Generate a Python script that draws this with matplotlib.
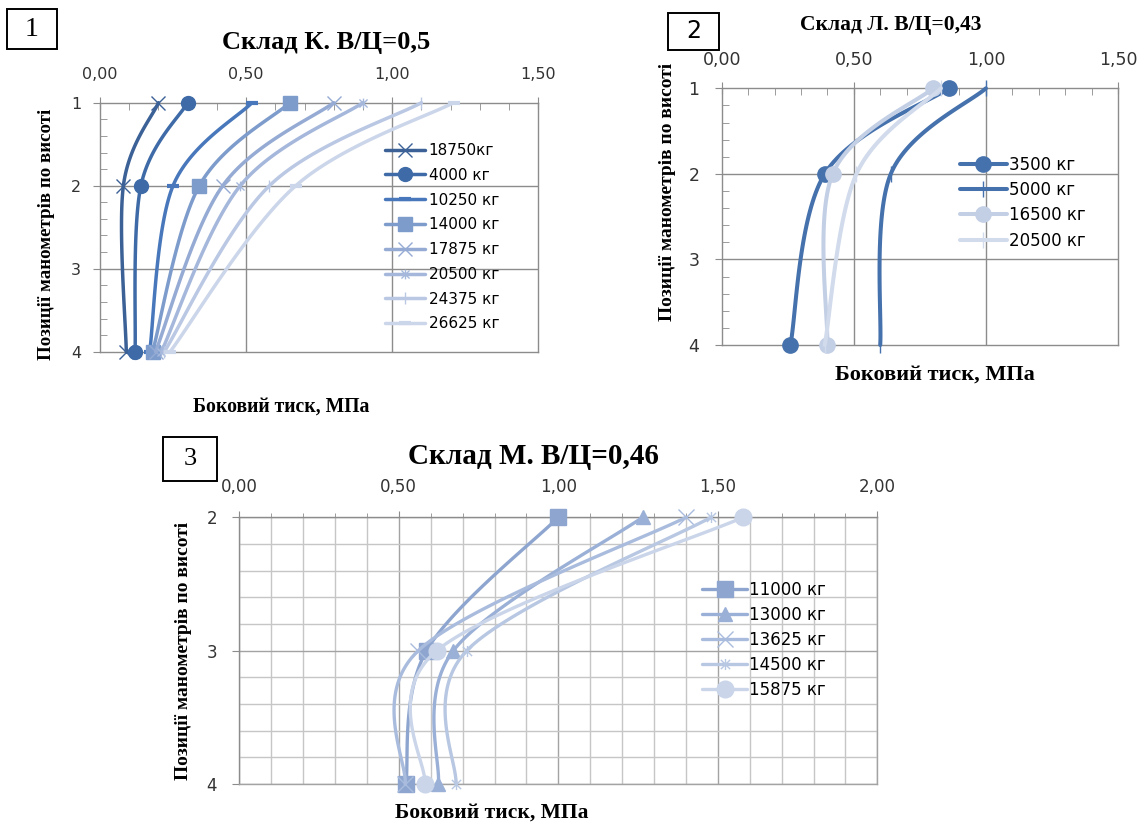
import numpy as np
import matplotlib
matplotlib.use("Agg")
import matplotlib.pyplot as plt
from matplotlib.ticker import MultipleLocator, FixedLocator, FixedFormatter
from matplotlib.patches import Rectangle
from matplotlib.path import Path

# ---------------- data ----------------
# Panel 1: Склад К. В/Ц=0,5
p1_positions = [1, 2, 4]
p1_labels = ["18750кг", "4000 кг", "10250 кг", "14000 кг", "17875 кг", "20500 кг", "24375 кг", "26625 кг"]
p1_s18750 = [0.20, 0.08, 0.09]
p1_s4000 = [0.30, 0.14, 0.12]
p1_s10250 = [0.52, 0.25, 0.17]
p1_s14000 = [0.65, 0.34, 0.18]
p1_s17875 = [0.80, 0.42, 0.19]
p1_s20500 = [0.90, 0.48, 0.21]
p1_s24375 = [1.10, 0.58, 0.22]
p1_s26625 = [1.21, 0.67, 0.24]

# Panel 2: Склад Л. В/Ц=0,43
p2_positions = [1, 2, 4]
p2_labels = ["3500 кг", "5000 кг", "16500 кг", "20500 кг"]
p2_s3500 = [0.86, 0.39, 0.26]
p2_s5000 = [1.00, 0.64, 0.60]
p2_s16500 = [0.80, 0.42, 0.40]
p2_s20500 = [0.83, 0.51, 0.39]

# Panel 3: Склад М. В/Ц=0,46
p3_positions = [2, 3, 4]
p3_labels = ["11000 кг", "13000 кг", "13625 кг", "14500 кг", "15875 кг"]
p3_s11000 = [1.00, 0.587, 0.522]
p3_s13000 = [1.264, 0.671, 0.624]
p3_s13625 = [1.401, 0.561, 0.52]
p3_s14500 = [1.479, 0.713, 0.679]
p3_s15875 = [1.580, 0.619, 0.582]

x_ticklabels_15 = ["0,00", "0,50", "1,00", "1,50"]
x_ticks_15 = [0.0, 0.5, 1.0, 1.5]
x_ticklabels_20 = ["0,00", "0,50", "1,00", "1,50", "2,00"]
x_ticks_20 = [0.0, 0.5, 1.0, 1.5, 2.0]

titles = ["Склад К. В/Ц=0,5", "Склад Л. В/Ц=0,43", "Склад М. В/Ц=0,46"]
ylabel = "Позиції манометрів по висоті"
xlabel = "Боковий тиск, МПа"

# ---------------- helpers ----------------
W, H = 1141, 823
fig = plt.figure(figsize=(W / 100, H / 100), dpi=100)
fig.patch.set_facecolor("white")

SERIF = "Liberation Serif"
SANS = "DejaVu Sans"
GRID = "#8c8c8c"
N = 40


def fx(px):
    return px / W


def fy(py):
    return 1 - py / H


def axes_px(l, t, r, b):
    return fig.add_axes([fx(l), fy(b), (r - l) / W, (b - t) / H])


def smooth(xs, ys, n=N):
    P = np.column_stack([xs, ys]).astype(float)
    out = []
    for i in range(len(P) - 1):
        p0 = P[i - 1] if i > 0 else P[i]
        p1, p2 = P[i], P[i + 1]
        p3 = P[i + 2] if i + 2 < len(P) else P[i + 1]
        c1 = p1 + (p2 - p0) / 6.0
        c2 = p2 - (p3 - p1) / 6.0
        t = np.linspace(0, 1, n)[:, None]
        seg = (1 - t) ** 3 * p1 + 3 * (1 - t) ** 2 * t * c1 + 3 * (1 - t) * t ** 2 * c2 + t ** 3 * p2
        out.append(seg if i == 0 else seg[1:])
    C = np.vstack(out)
    idx = [i * (n - 1) for i in range(len(P))]
    return C[:, 0], C[:, 1], idx


ASTER = Path([(-1, -1), (1, 1), (-1, 1), (1, -1), (0, -1.2), (0, 1.2)],
             [Path.MOVETO, Path.LINETO, Path.MOVETO, Path.LINETO, Path.MOVETO, Path.LINETO])


def draw_series(ax, vals, pos, label, color, marker, ms, lw, mew=1.0):
    cx, cy, idx = smooth(vals, pos)
    filled = marker in ("o", "s", "^")
    ax.plot(cx, cy, color=color, lw=lw, label=label, marker=marker, markevery=idx,
            ms=ms, mfc=color if filled else "none", mec=color, mew=mew,
            solid_capstyle="round", zorder=3, clip_on=False)


def style_axes(ax, xt, xtl, xmax, ymin, ymax, tick_fs, yticks):
    ax.set_xlim(0, xmax)
    ax.set_ylim(ymax, ymin)
    ax.xaxis.tick_top()
    ax.xaxis.set_major_locator(FixedLocator(xt))
    ax.xaxis.set_major_formatter(FixedFormatter(xtl))
    ax.yaxis.set_major_locator(FixedLocator(yticks))
    ax.yaxis.set_major_formatter(FixedFormatter([str(v) for v in yticks]))
    for s in ax.spines.values():
        s.set_color(GRID)
        s.set_linewidth(1.0)
    ax.tick_params(axis="both", which="both", colors=GRID, labelcolor="#333333")
    for lab in ax.get_xticklabels() + ax.get_yticklabels():
        lab.set_fontfamily(SANS)
        lab.set_fontsize(tick_fs)


def box_label(l, t, r, b, txt, fam, fs):
    fig.add_artist(Rectangle((fx(l), fy(b)), (r - l) / W, (b - t) / H,
                             transform=fig.transFigure, fill=False, ec="black", lw=1.4))
    fig.text(fx((l + r) / 2), fy((t + b) / 2), txt, ha="center", va="center",
             family=fam, fontsize=fs, color="black")


# ---------------- Panel 1 ----------------
ax1 = axes_px(100, 102.7, 538.3, 351.7)
style_axes(ax1, x_ticks_15, x_ticklabels_15, 1.5, 1, 4, 11.5, [1, 2, 3, 4])
ax1.xaxis.set_minor_locator(MultipleLocator(0.1))
ax1.yaxis.set_minor_locator(MultipleLocator(0.2))
ax1.tick_params(axis="x", which="major", direction="inout", length=9, pad=10.5)
ax1.tick_params(axis="x", which="minor", direction="in", length=5)
ax1.tick_params(axis="y", which="major", direction="out", length=5, pad=8.5)
ax1.tick_params(axis="y", which="minor", direction="in", length=5)
for v in [0.5, 1.0]:
    ax1.axvline(v, color=GRID, lw=1.0, zorder=1)
for v in [2, 3]:
    ax1.axhline(v, color=GRID, lw=1.0, zorder=1)

p1_series = [p1_s18750, p1_s4000, p1_s10250, p1_s14000, p1_s17875, p1_s20500, p1_s24375, p1_s26625]
p1_colors = ["#3b6196", "#3e6ba7", "#4878bb", "#7d9ccc", "#95abd4", "#a5b8dc", "#bac8e4", "#ccd6ea"]
p1_markers = ["x", "o", "_", "s", "x", ASTER, "|", "_"]
p1_ms = [10, 10, 9, 10, 10, 7, 9, 9]
p1_mew = [1.0, 1.0, 3.0, 1.0, 1.0, 1.0, 1.0, 3.0]
for vals, lab, col, mk, ms, mw in zip(p1_series, p1_labels, p1_colors, p1_markers, p1_ms, p1_mew):
    draw_series(ax1, vals, p1_positions, lab, col, mk, ms, 2.5, mw)

leg1 = ax1.legend(loc="upper left", bbox_to_anchor=(fx(385), fy(143)), bbox_transform=fig.transFigure,
                  frameon=False, borderpad=0, borderaxespad=0, handlelength=2.6, handletextpad=0.25,
                  labelspacing=0.64, prop={"family": SANS, "size": 11})

# ---------------- Panel 2 ----------------
ax2 = axes_px(721.7, 88.3, 1118, 345)
style_axes(ax2, x_ticks_15, x_ticklabels_15, 1.5, 1, 4, 12.5, [1, 2, 3, 4])
ax2.xaxis.set_minor_locator(MultipleLocator(0.1))
ax2.yaxis.set_minor_locator(MultipleLocator(0.2))
ax2.tick_params(axis="x", which="major", direction="inout", length=9, pad=9.5)
ax2.tick_params(axis="x", which="minor", direction="in", length=5)
ax2.tick_params(axis="y", which="major", direction="out", length=5, pad=11)
ax2.tick_params(axis="y", which="minor", direction="in", length=5)
for v in [0.5, 1.0]:
    ax2.axvline(v, color=GRID, lw=1.0, zorder=1)
for v in [2, 3]:
    ax2.axhline(v, color=GRID, lw=1.0, zorder=1)

p2_series = [p2_s3500, p2_s5000, p2_s16500, p2_s20500]
p2_colors = ["#4571ac", "#4571ac", "#c3cfe5", "#d1dbec"]
p2_markers = ["o", "|", "o", "|"]
p2_ms = [11, 12, 11, 12]
for vals, lab, col, mk, ms in zip(p2_series, p2_labels, p2_colors, p2_markers, p2_ms):
    draw_series(ax2, vals, p2_positions, lab, col, mk, ms, 2.9, 1.0)

leg2 = ax2.legend(loc="upper left", bbox_to_anchor=(fx(960), fy(155.5)), bbox_transform=fig.transFigure,
                  frameon=False, borderpad=0, borderaxespad=0, handlelength=2.8, handletextpad=0.15,
                  labelspacing=0.44, prop={"family": SANS, "size": 12})

# ---------------- Panel 3 ----------------
ax3 = axes_px(239.3, 517.3, 877.3, 784)
style_axes(ax3, x_ticks_20, x_ticklabels_20, 2.0, 2, 4, 12, [2, 3, 4])
ax3.xaxis.set_minor_locator(MultipleLocator(0.1))
ax3.yaxis.set_minor_locator(MultipleLocator(0.2))
ax3.tick_params(axis="x", which="major", direction="out", length=4, pad=11)
ax3.tick_params(axis="x", which="minor", direction="out", length=3)
ax3.tick_params(axis="y", which="major", direction="out", length=5, pad=11)
ax3.tick_params(axis="y", which="minor", length=0)
ax3.grid(True, which="minor", color="#c6c6c6", lw=1.0)
ax3.grid(True, which="major", color="#a3a3a3", lw=1.0)
ax3.set_axisbelow(True)
for side in ["right", "bottom"]:
    ax3.spines[side].set_color("#a3a3a3")

p3_series = [p3_s11000, p3_s13000, p3_s13625, p3_s14500, p3_s15875]
p3_colors = ["#8ea6cf", "#9bb0d6", "#aabcdd", "#b8c7e2", "#cad5ea"]
p3_markers = ["s", "^", "x", ASTER, "o"]
p3_ms = [11, 10, 11, 8, 12]
for vals, lab, col, mk, ms in zip(p3_series, p3_labels, p3_colors, p3_markers, p3_ms):
    draw_series(ax3, vals, p3_positions, lab, col, mk, ms, 2.4, 1.0)

leg3 = ax3.legend(loc="upper left", bbox_to_anchor=(fx(702), fy(581)), bbox_transform=fig.transFigure,
                  frameon=False, borderpad=0, borderaxespad=0, handlelength=2.7, handletextpad=0.12,
                  labelspacing=0.42, prop={"family": SANS, "size": 12})

# ---------------- Texts ----------------
fig.text(fx(326), fy(42), titles[0], ha="center", va="center", family=SERIF, weight="bold", fontsize=19)
fig.text(fx(891), fy(25), titles[1], ha="center", va="center", family=SERIF, weight="bold", fontsize=15.5)
fig.text(fx(533), fy(457), titles[2], ha="center", va="center", family=SERIF, weight="bold", fontsize=21)

fig.text(fx(47), fy(234), ylabel, rotation=90, ha="center", va="center", family=SERIF, weight="bold", fontsize=13.6)
fig.text(fx(667), fy(192), ylabel, rotation=90, ha="center", va="center", family=SERIF, weight="bold", fontsize=14)
fig.text(fx(183), fy(651), ylabel, rotation=90, ha="center", va="center", family=SERIF, weight="bold", fontsize=14)

fig.text(fx(281), fy(407), xlabel, ha="center", va="center", family=SERIF, weight="bold", fontsize=14.2)
fig.text(fx(935), fy(375), xlabel, ha="center", va="center", family=SERIF, weight="bold", fontsize=16)
fig.text(fx(492), fy(813), xlabel, ha="center", va="center", family=SERIF, weight="bold", fontsize=15.5)

box_label(7, 9, 57, 49, "1", SERIF, 20)
box_label(668, 13, 719, 50, "2", SANS, 17)
box_label(163, 437, 217, 481, "3", SERIF, 19)

fig.savefig("out.png", dpi=100, facecolor="white")
